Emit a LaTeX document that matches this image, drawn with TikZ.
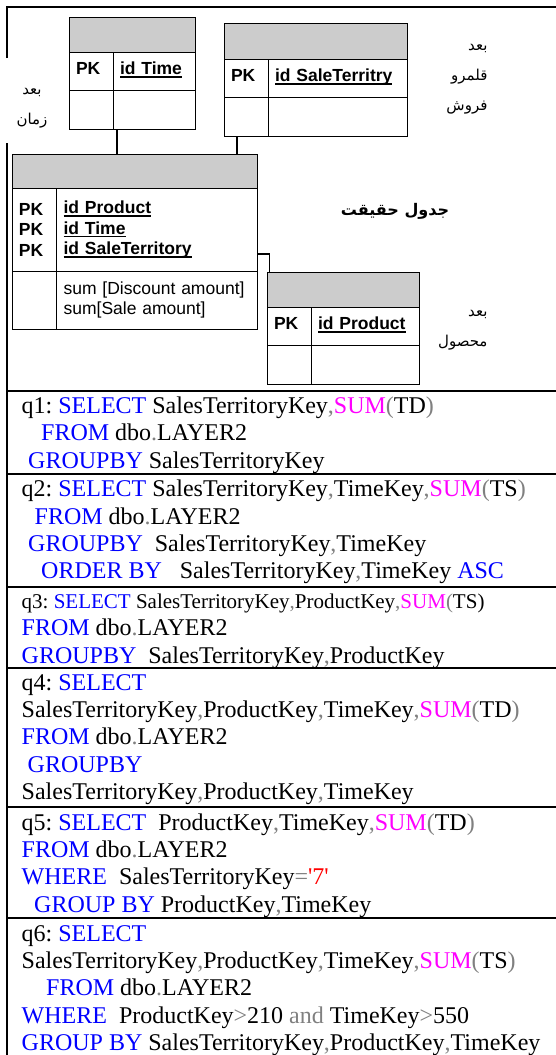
\documentclass[tikz,border=0pt]{standalone}
\usepackage{fontspec}
\setmainfont{Liberation Serif}
\setsansfont{Liberation Sans}
\newfontfamily\persianfont[Script=Arabic]{DejaVu Sans}
\TeXXeTstate=1
\usepackage{tikz}
\usetikzlibrary{positioning}

\definecolor{sqlblue}{RGB}{0,0,255}
\definecolor{sqlpink}{RGB}{255,0,255}
\definecolor{sqlgray}{RGB}{128,128,128}
\definecolor{sqlred}{RGB}{255,0,0}
\newcommand{\sqlkw}[1]{\textcolor{sqlblue}{#1}}
\newcommand{\sqlfn}[1]{\textcolor{sqlpink}{#1}}
\newcommand{\sqlop}[1]{\textcolor{sqlgray}{#1}}
\newcommand{\sqllit}[1]{\textcolor{sqlred}{#1}}
\newcommand{\keyline}[1]{\setbox0=\hbox{#1}\leavevmode\rlap{\raisebox{-3pt}{\rule{\wd0}{1.4pt}}}\box0}

\tikzset{
	ercell/.style={draw, line width=1pt, outer sep=0pt, inner xsep=7pt, inner ysep=0pt, align=left, font=\fontsize{17.5}{20.5}\selectfont\sffamily\bfseries},
	errow/.style={ercell, minimum height=38.5pt, text height=12pt, text depth=5pt},
	erhead/.style={draw, line width=1pt, outer sep=0pt, fill=gray!40, minimum height=35pt, anchor=north west},
	erlink/.style={line width=1.3pt},
	falabel/.style={font=\fontsize{15}{30}\selectfont\persianfont, align=right, anchor=east},
	sqlq/.style={anchor=north west, inner sep=0pt, align=left, font=\fontsize{24}{27.3}\selectfont},
	tabrule/.style={line width=2pt}
}

\begin{document}
\frenchspacing
\begin{tikzpicture}[x=1pt,y=-1pt]
	\useasboundingbox (0,0) rectangle (555,1055);
	% table frame
	\draw[tabrule] (7,58) -- (7,7.3) -- (556,7.3);
	\draw[tabrule] (7,143) -- (7,1056);
	\foreach \y in {390.7,474.3,587,668.3,807,918.3} {
		\draw[tabrule] (6,\y) -- (556,\y);
	}
	% time dimension
	\node[erhead, minimum width=126pt] (timehead) at (69,17) {};
	\node[errow, text width=30pt, anchor=north west] (timepk) at (timehead.south west) {PK};
	\node[errow, text width=68pt, right=0pt of timepk] (timekey) {\keyline{id Time}};
	\node[errow, text width=30pt, below=0pt of timepk] (timeblank) {};
	\node[errow, text width=68pt, right=0pt of timeblank] (timeval) {};
	% sale territory dimension
	\node[erhead, minimum width=183pt, minimum height=36pt] (salehead) at (224,23) {};
	\node[errow, text width=30pt, anchor=north west] (salepk) at (salehead.south west) {PK};
	\node[errow, text width=125pt, right=0pt of salepk] (salekey) {\keyline{id SaleTerritry}};
	\node[errow, text width=30pt, below=0pt of salepk] (saleblank) {};
	\node[errow, text width=125pt, right=0pt of saleblank] (saleval) {};
	% fact table
	\node[erhead, minimum width=245pt, minimum height=34pt] (facthead) at (12,154) {};
	\node[ercell, text width=30.6pt, minimum height=83pt, anchor=north west] (factpk) at (facthead.south west) {PK\\PK\\PK};
	\node[ercell, text width=186.4pt, minimum height=83pt, right=0pt of factpk] (factkey) {\keyline{id Product}\\\keyline{id Time}\\\keyline{id SaleTerritory}};
	\node[ercell, text width=30.6pt, minimum height=58pt, below=0pt of factpk] (factblank) {};
	\node[ercell, text width=186.4pt, minimum height=58pt, right=0pt of factblank, font=\fontsize{17.5}{20}\selectfont\sffamily] (factval) {sum [Discount amount]\\sum[Sale amount]};
	% product dimension
	\node[erhead, minimum width=152pt] (prodhead) at (267,272) {};
	\node[errow, text width=30pt, anchor=north west] (prodpk) at (prodhead.south west) {PK};
	\node[errow, text width=94pt, right=0pt of prodpk] (prodkey) {\keyline{id Product}};
	\node[errow, text width=30pt, below=0pt of prodpk] (prodblank) {};
	\node[errow, text width=94pt, right=0pt of prodblank] (prodval) {};
	% links
	\coordinate (timelink) at ([xshift=4pt]timeval.south west);
	\coordinate (salelink) at ([xshift=13pt]saleblank.south west);
	\coordinate (factlink) at ([yshift=17pt]factkey.south east);
	\draw[erlink] (timelink) -- (timelink |- facthead.north);
	\draw[erlink] (salelink) -- (salelink |- facthead.north);
	\draw[erlink] (factlink) -| ([xshift=2.5pt]prodhead.north west);
	% labels
	\node[falabel, align=center, anchor=center] (timelabel) at (32,108) {\beginR بعد\endR\\\beginR زمان\endR};
	\node[falabel] (salelabel) at (491,79) {\beginR بعد\endR\\\beginR قلمرو\endR\\\beginR فروش\endR};
	\node[falabel, font=\fontsize{16}{30}\selectfont\persianfont\bfseries, anchor=center] (factlabel) at (395,211) {\beginR جدول حقیقت\endR};
	\node[falabel] (prodlabel) at (491,330) {\beginR بعد\endR\\\beginR محصول\endR};
	% queries
	\node[sqlq] (q1) at (21.5,394.2) {\strut q1: \sqlkw{SELECT} SalesTerritoryKey\sqlop{,}\sqlfn{SUM}\sqlop{(}TD\sqlop{)}\\
		\hspace*{19.5pt}\sqlkw{FROM} dbo\sqlop{.}LAYER2\\
		\hspace*{6.5pt}\sqlkw{GROUPBY} SalesTerritoryKey};
	\node[sqlq] (q2) at (21.5,477.6) {\strut q2: \sqlkw{SELECT} SalesTerritoryKey\sqlop{,}TimeKey\sqlop{,}\sqlfn{SUM}\sqlop{(}TS\sqlop{)}\\
		\hspace*{13pt}\sqlkw{FROM} dbo\sqlop{.}LAYER2\\
		\hspace*{6.5pt}\sqlkw{GROUPBY}~ SalesTerritoryKey\sqlop{,}TimeKey\\
		\hspace*{19.5pt}\sqlkw{ORDER BY}~~ SalesTerritoryKey\sqlop{,}TimeKey \sqlkw{ASC}};
	\node[sqlq] (q3) at (21.5,589.2) {\strut{\fontsize{21}{27.3}\selectfont q3: \sqlkw{SELECT} SalesTerritoryKey\sqlop{,}ProductKey\sqlop{,}\sqlfn{SUM}\sqlop{(}TS)}\\
		\sqlkw{FROM} dbo\sqlop{.}LAYER2\\
		\sqlkw{GROUPBY}~ SalesTerritoryKey\sqlop{,}ProductKey};
	\node[sqlq] (q4) at (21.5,670.9) {\strut q4: \sqlkw{SELECT}\\
		SalesTerritoryKey\sqlop{,}ProductKey\sqlop{,}TimeKey\sqlop{,}\sqlfn{SUM}\sqlop{(}TD\sqlop{)}\\
		\sqlkw{FROM} dbo\sqlop{.}LAYER2\\
		\hspace*{6pt}\sqlkw{GROUPBY}\\
		SalesTerritoryKey\sqlop{,}ProductKey\sqlop{,}TimeKey};
	\node[sqlq] (q5) at (21.5,810.9) {\strut q5: \sqlkw{SELECT}~ ProductKey\sqlop{,}TimeKey\sqlop{,}\sqlfn{SUM}\sqlop{(}TD\sqlop{)}\\
		\sqlkw{FROM} dbo\sqlop{.}LAYER2\\
		\sqlkw{WHERE}~ SalesTerritoryKey\sqlop{=}\sqllit{\textquotesingle 7\textquotesingle}\\
		\hspace*{12.5pt}\sqlkw{GROUP BY} ProductKey\sqlop{,}TimeKey};
	\node[sqlq] (q6) at (21.5,921.9) {\strut q6: \sqlkw{SELECT}\\
		SalesTerritoryKey\sqlop{,}ProductKey\sqlop{,}TimeKey\sqlop{,}\sqlfn{SUM}\sqlop{(}TS\sqlop{)}\\
		\hspace*{24.5pt}\sqlkw{FROM} dbo\sqlop{.}LAYER2\\
		\sqlkw{WHERE}~ ProductKey\sqlop{>}210 \sqlop{and} TimeKey\sqlop{>}550\\
		\sqlkw{GROUP BY} SalesTerritoryKey\sqlop{,}ProductKey\sqlop{,}TimeKey};
\end{tikzpicture}
\end{document}
